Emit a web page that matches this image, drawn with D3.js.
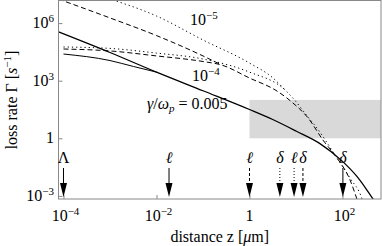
<!DOCTYPE html>
<html>
<head>
<meta charset="utf-8">
<script src="https://cdn.jsdelivr.net/npm/d3@7"></script>
<style>
body { margin: 0; background: #fff; }
svg text { font-family: 'Liberation Serif', 'Times New Roman', serif; fill: #000; }
</style>
</head>
<body>
<script>
// ---- data (z in µm, rate in 1/s) ----
// gamma/omega_p = 0.005 : solid
const zSolid = [7.8e-5, 1e-3, 1e-2, 0.1, 1, 3.16, 10, 31.6, 100, 200, 316, 480]
const gSolid = [3.5e5, 2.95e4, 2.8e3, 300, 31.6, 9.5, 2.4, 0.56, 0.063, 0.011, 2.5e-3, 5.6e-4]
const zSolidCut = [1e-4, 1e-3, 3.2e-3, 1e-2]
const gSolidCut = [2.45e4, 1.12e4, 5.5e3, 2.8e3]
// gamma/omega_p = 1e-4 : dashed
const zDashLocal = [7.8e-5, 1e-3, 1e-2, 0.1, 0.25]
const gDashLocal = [1.78e7, 1.86e6, 2.24e5, 1.95e4, 6.6e3]
const zDash = [1e-4, 1e-3, 1e-2, 0.1, 0.25, 1, 3.9, 8.6, 18.2, 38, 76, 145, 204, 220]
const gDash = [4.47e4, 3.55e4, 1.95e4, 1e4, 6.6e3, 1.38e3, 290, 69, 11.5, 0.81, 0.095, 6.8e-3, 6.9e-4, 4e-4]
// gamma/omega_p = 1e-5 : dotted
const zDotLocal = [6.3e-4, 1e-2, 0.1, 1, 3.2, 5.8]
const gDotLocal = [2.5e7, 2.34e6, 1.32e5, 8.3e3, 1.38e3, 330]
const zDot = [1e-4, 1e-3, 1e-2, 0.1, 1, 5.8, 8.2, 18.2, 28, 69, 145, 263, 282]
const gDot = [5.7e4, 4.8e4, 2.75e4, 1.35e4, 2.8e3, 330, 141, 12.6, 3.5, 0.135, 8.5e-3, 6.9e-4, 4e-4]

// shaded region
const zBand = [1, 1e3]
const gBand = [1, 100]

// arrows at the bottom
const zArrows = [1e-4, 0.0186, 1, 4.5, 9.1, 14.1, 102]
const arrowLabels = ["Λ", "ℓ", "ℓ", "δ", "ℓ", "δ", "δ"]
const arrowStyles = ["solid", "solid", "dashed", "dotted", "dotted", "dashed", "solid"]

// ticks
const xTicks = [1e-4, 1e-2, 1, 1e2]
const xTickLabels = [["10", "−4"], ["10", "−2"], ["1", ""], ["10", "2"]]
const yTicks = [1e-3, 1, 1e3, 1e6]
const yTickLabels = [["10", "−3"], ["1", ""], ["10", "3"], ["10", "6"]]

const W = 382, H = 246
const L = 58.5, R = 381, T = 0.5, B = 199
const FONT = "'Liberation Serif', 'Times New Roman', serif"
const FS = 16, FSUP = 11

const x = d3.scaleLog().domain([Math.pow(10, -4.1075), Math.pow(10, 2.828)]).range([L, R])
const y = d3.scaleLog().domain([Math.pow(10, -3.161), Math.pow(10, 7.177)]).range([B, T])

const svg = d3.select("body").append("svg").attr("width", W).attr("height", H)
  .attr("font-family", FONT)

svg.append("defs").append("clipPath").attr("id", "clip")
  .append("rect").attr("x", L).attr("y", T).attr("width", R - L).attr("height", B - T)

const plot = svg.append("g").attr("clip-path", "url(#clip)")

// gray band
plot.append("rect")
  .attr("x", x(zBand[0])).attr("y", y(gBand[1]))
  .attr("width", x(zBand[1]) - x(zBand[0]))
  .attr("height", y(gBand[0]) - y(gBand[1]))
  .attr("fill", "#d9d9d9")

const line = d3.line().x(d => x(d[0])).y(d => y(d[1])).curve(d3.curveMonotoneX)
const zip = (a, b) => a.map((v, i) => [v, b[i]])

const curves = [
  { z: zSolid, g: gSolid, w: 1.3, dash: null },
  { z: zSolidCut, g: gSolidCut, w: 1, dash: null },
  { z: zDashLocal, g: gDashLocal, w: 1, dash: "5,3" },
  { z: zDash, g: gDash, w: 1, dash: "5,3" },
  { z: zDotLocal, g: gDotLocal, w: 1, dash: "1.2,3" },
  { z: zDot, g: gDot, w: 1, dash: "1.2,3" }
]

plot.selectAll("path.curve").data(curves).enter().append("path")
  .attr("class", "curve")
  .attr("d", c => line(zip(c.z, c.g)))
  .attr("fill", "none")
  .attr("stroke", "#000")
  .attr("stroke-width", c => c.w)
  .attr("stroke-dasharray", c => c.dash)

// frame + ticks
svg.append("g").attr("transform", `translate(0,${B})`)
  .call(d3.axisBottom(x).tickValues(xTicks).tickSize(-4).tickFormat(""))
svg.append("g").attr("transform", `translate(${L},0)`)
  .call(d3.axisLeft(y).tickValues(yTicks).tickSize(-4).tickFormat(""))
svg.selectAll(".domain").remove()
svg.selectAll(".tick line").attr("stroke", "#888")

svg.append("rect").attr("x", L).attr("y", T).attr("width", R - L).attr("height", B - T)
  .attr("fill", "none").attr("stroke", "#888").attr("stroke-width", 1)

function powLabel(t, parts) {
  t.append("tspan").text(parts[0])
  if (parts[1]) t.append("tspan").attr("dy", -6).attr("font-size", FSUP).text(parts[1])
}

xTicks.forEach((v, i) => {
  const t = svg.append("text").attr("x", x(v) + (xTickLabels[i][1] ? 2 : 0)).attr("y", 221)
    .attr("text-anchor", "middle").attr("font-size", FS)
  powLabel(t, xTickLabels[i])
})
yTicks.forEach((v, i) => {
  const t = svg.append("text").attr("x", 54).attr("y", y(v) + 5)
    .attr("text-anchor", "end").attr("font-size", FS)
  powLabel(t, yTickLabels[i])
})

// axis titles
const xt = svg.append("text").attr("x", (L + R) / 2).attr("y", 242)
  .attr("text-anchor", "middle").attr("font-size", FS)
xt.append("tspan").text("distance z [")
xt.append("tspan").attr("font-style", "italic").text("μ")
xt.append("tspan").text("m]")

const yt = svg.append("text").attr("transform", "translate(17,100) rotate(-90)")
  .attr("text-anchor", "middle").attr("font-size", FS)
yt.append("tspan").text("loss rate Γ [")
yt.append("tspan").attr("font-style", "italic").text("s")
yt.append("tspan").attr("dy", -6).attr("font-size", FSUP).text("−1")
yt.append("tspan").attr("dy", 6).text("]")

// curve labels
const l5 = svg.append("text").attr("x", 190).attr("y", 25).attr("font-size", FS)
powLabel(l5, ["10", "−5"])
const l4 = svg.append("text").attr("x", 192).attr("y", 81).attr("font-size", FS)
powLabel(l4, ["10", "−4"])
const lg = svg.append("text").attr("x", 147).attr("y", 109).attr("font-size", FS)
lg.append("tspan").attr("font-style", "italic").text("γ")
lg.append("tspan").text("/")
lg.append("tspan").attr("font-style", "italic").text("ω")
lg.append("tspan").attr("font-style", "italic").attr("font-size", FSUP).attr("dy", 3).text("p")
lg.append("tspan").attr("dy", -3).text(" = 0.005")

// arrows
const dashes = { solid: null, dashed: "3,2", dotted: "1,2" }
const arrows = svg.selectAll("g.arrow").data(zArrows).enter().append("g").attr("class", "arrow")
  .attr("transform", d => `translate(${x(d)},0)`)
arrows.append("line").attr("x1", 0).attr("x2", 0).attr("y1", 168).attr("y2", 185)
  .attr("stroke", "#000").attr("stroke-width", 1)
  .attr("stroke-dasharray", (d, i) => dashes[arrowStyles[i]])
arrows.append("path").attr("d", "M-3.5,183 L3.5,183 L0,197 Z").attr("fill", "#000")
arrows.append("text").attr("y", 163).attr("text-anchor", "middle").attr("font-size", FS)
  .attr("font-style", (d, i) => arrowLabels[i] === "Λ" ? "normal" : "italic")
  .text((d, i) => arrowLabels[i])
</script>
</body>
</html>
